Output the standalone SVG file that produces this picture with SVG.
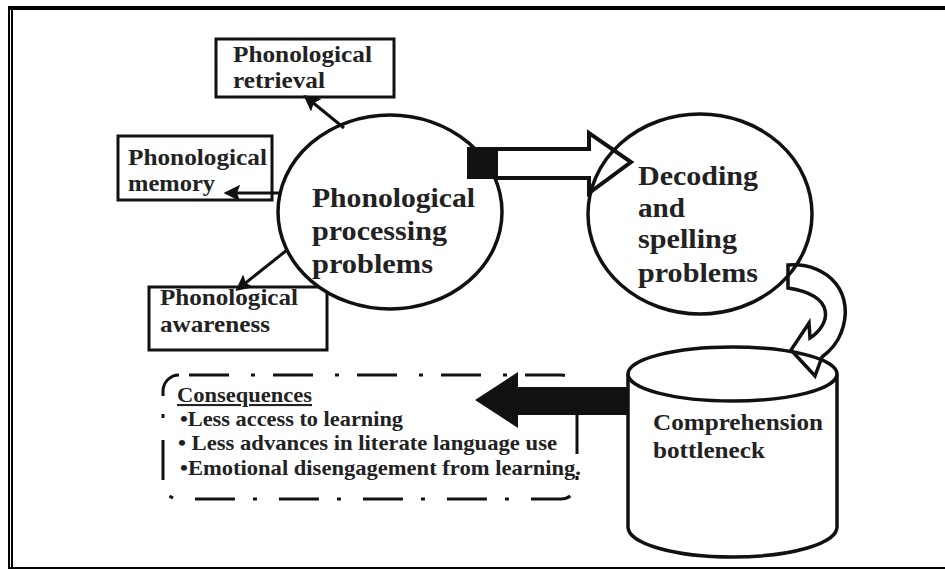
<svg xmlns="http://www.w3.org/2000/svg" width="945" height="570" viewBox="0 0 945 570">
<style>
.t{font-family:'Liberation Serif','DejaVu Serif','Times New Roman',serif;font-weight:700;fill:#222}
.box{fill:#fff;stroke:#111;stroke-width:3}
.ell{fill:#fff;stroke:#111;stroke-width:3.5}
.ln{stroke:#111;stroke-width:3;fill:none}
</style>
<defs>
<marker id="ah" viewBox="0 0 10 10" refX="8" refY="5" markerWidth="5.5" markerHeight="5.5" orient="auto" markerUnits="strokeWidth">
<path d="M0,0 L10,5 L0,10 L2,5 Z" fill="#111"/>
</marker>
</defs>
<rect width="945" height="570" fill="#fff"/>
<g id="frame">
<rect x="9" y="6" width="936" height="4" fill="#000"/>
<rect x="8" y="6" width="2" height="563" fill="#000"/>
<rect x="11" y="8" width="2" height="561" fill="#000"/>
<rect x="9" y="567" width="936" height="2" fill="#000"/>
</g>
<g id="retrieval">
<rect class="box" x="216" y="39" width="178" height="58"/>
<text class="t" x="233" y="62" font-size="24" textLength="139" lengthAdjust="spacingAndGlyphs">Phonological</text>
<text class="t" x="233" y="88" font-size="24" textLength="92" lengthAdjust="spacingAndGlyphs">retrieval</text>
</g>
<g id="memory">
<rect class="box" x="118" y="136" width="154" height="64"/>
<text class="t" x="128" y="165" font-size="24" textLength="139" lengthAdjust="spacingAndGlyphs">Phonological</text>
<text class="t" x="128" y="191" font-size="24" textLength="87" lengthAdjust="spacingAndGlyphs">memory</text>
</g>
<g id="awareness">
<rect class="box" x="149" y="287" width="178" height="63"/>
<text class="t" x="160" y="305" font-size="24" textLength="138" lengthAdjust="spacingAndGlyphs">Phonological</text>
<text class="t" x="160" y="332" font-size="24" textLength="110" lengthAdjust="spacingAndGlyphs">awareness</text>
</g>
<g id="phonological-processing">
<ellipse class="ell" cx="390" cy="212" rx="112" ry="97"/>
<text class="t" x="312" y="207" font-size="28" textLength="163" lengthAdjust="spacingAndGlyphs">Phonological</text>
<text class="t" x="312" y="240" font-size="28" textLength="135" lengthAdjust="spacingAndGlyphs">processing</text>
<text class="t" x="312" y="273" font-size="28" textLength="121" lengthAdjust="spacingAndGlyphs">problems</text>
</g>
<g id="decoding">
<ellipse class="ell" cx="700" cy="214" rx="112" ry="100"/>
<text class="t" x="638" y="185" font-size="27" textLength="120" lengthAdjust="spacingAndGlyphs">Decoding</text>
<text class="t" x="638" y="217" font-size="27" textLength="47" lengthAdjust="spacingAndGlyphs">and</text>
<text class="t" x="638" y="248" font-size="27" textLength="99" lengthAdjust="spacingAndGlyphs">spelling</text>
<text class="t" x="638" y="282" font-size="27" textLength="120" lengthAdjust="spacingAndGlyphs">problems</text>
</g>
<g id="bottleneck">
<path class="ell" d="M628 374 L628 527 A104.5 30 0 0 0 837 527 L837 374"/>
<ellipse class="ell" cx="732.5" cy="374" rx="104.5" ry="27"/>
<text class="t" x="653" y="430" font-size="23" textLength="170" lengthAdjust="spacingAndGlyphs">Comprehension</text>
<text class="t" x="653" y="458" font-size="23" textLength="112" lengthAdjust="spacingAndGlyphs">bottleneck</text>
</g>
<g id="consequences">
<rect x="163" y="375" width="414" height="124" rx="16" fill="none" stroke="#111" stroke-width="3" stroke-dasharray="40 22 4 18" stroke-dashoffset="-10"/>
<text class="t" x="177" y="402" font-size="21" textLength="135" lengthAdjust="spacingAndGlyphs" text-decoration="underline">Consequences</text>
<text class="t" x="180" y="426" font-size="21" textLength="223" lengthAdjust="spacingAndGlyphs">•Less access to learning</text>
<text class="t" x="178" y="450" font-size="21" textLength="379" lengthAdjust="spacingAndGlyphs">• Less advances in literate language use</text>
<text class="t" x="180" y="475" font-size="21" textLength="401" lengthAdjust="spacingAndGlyphs">•Emotional disengagement from learning.</text>
</g>
<g id="connectors">
<line class="ln" x1="344" y1="128" x2="306" y2="97" marker-end="url(#ah)"/>
<line class="ln" x1="282" y1="193" x2="227" y2="193" marker-end="url(#ah)"/>
<line class="ln" x1="287" y1="250" x2="238" y2="289" marker-end="url(#ah)"/>
<rect x="467" y="147" width="31" height="32" fill="#111"/>
<path d="M497 149 L589 149 L589 133 L631 162 L589 193 L589 178 L497 178" fill="none" stroke="#111" stroke-width="4" stroke-linejoin="miter"/>
<path d="M788 265 C830 262 856 295 841 333 C837 344 830 351 822 357 L815 376 L791 350 L809 323 L810 338 C830 325 838 296 788 288 Z" fill="none" stroke="#111" stroke-width="3.5" stroke-linejoin="miter"/>
<path d="M628 387 L518 387 L518 372 L475 400 L518 428 L518 415 L628 415 Z" fill="#111"/>
</g>
</svg>
